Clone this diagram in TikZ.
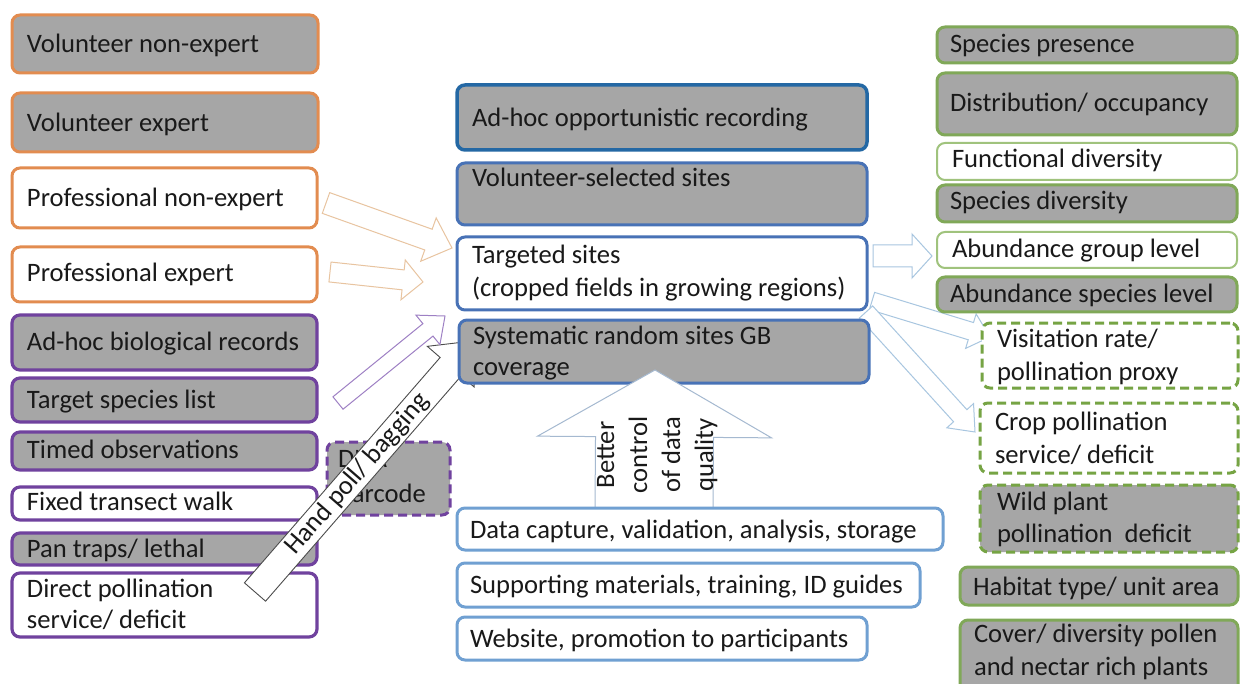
\documentclass[tikz,border=0pt]{standalone}
\usepackage{fontspec}
\setmainfont{Carlito}
\usetikzlibrary{calc}
\definecolor{orangeB}{RGB}{226,140,80}
\definecolor{purpleB}{RGB}{112,66,158}
\definecolor{grayF}{RGB}{166,166,166}
\definecolor{blueB}{RGB}{72,114,182}
\definecolor{topblueB}{RGB}{36,104,164}
\definecolor{lblueB}{RGB}{112,160,210}
\definecolor{greenB}{RGB}{128,168,88}
\definecolor{greenL}{RGB}{160,195,125}
\definecolor{greenD}{RGB}{118,164,68}
\definecolor{arrO}{RGB}{232,196,160}
\definecolor{arrP}{RGB}{158,128,196}
\definecolor{arrB}{RGB}{168,198,224}
\definecolor{arrBig}{RGB}{165,185,208}
\definecolor{txtC}{RGB}{25,25,25}
\newcommand{\tl}[1]{\begin{tabular}[t]{@{}l@{}}#1\end{tabular}}
\newdimen\BAxa \newdimen\BAya \newdimen\BAxb \newdimen\BAyb
% #1 start coord, #2 end coord, #3 shaft half width, #4 head half width, #5 head length, #6 style
\newcommand{\blockarrow}[6]{%
  \pgfextractx{\BAxa}{\pgfpointanchor{#1}{center}}%
  \pgfextracty{\BAya}{\pgfpointanchor{#1}{center}}%
  \pgfextractx{\BAxb}{\pgfpointanchor{#2}{center}}%
  \pgfextracty{\BAyb}{\pgfpointanchor{#2}{center}}%
  \pgfmathsetmacro{\BAang}{atan2(\BAyb-\BAya,\BAxb-\BAxa)}%
  \pgfmathsetmacro{\BAlen}{veclen(\BAxb-\BAxa,\BAyb-\BAya)}%
  \pgfmathsetmacro{\BAbase}{\BAlen-#5}%
  \draw[#6, shift={(#1)}, rotate=\BAang] (0pt,#3pt) -- (\BAbase pt,#3pt) -- (\BAbase pt,#4pt) -- (\BAlen pt,0pt) -- (\BAbase pt,-#4pt) -- (\BAbase pt,-#3pt) -- (0pt,-#3pt) -- cycle;%
}
% box: name, x1, y1, x2, y2, style
\newcommand{\bx}[6]{\node[#6, minimum width={#4-#2}, minimum height={#5-#3}] (#1) at ({(#2+#4)/2},{(#3+#5)/2}) {};}
\begin{document}
\begin{tikzpicture}[x=1pt,y=-1pt,
  font=\fontsize{26.6}{32}\selectfont,
  base/.style={rectangle, rounded corners=8pt, inner sep=0pt, outer sep=0pt},
  obox/.style={base, draw=orangeB, line width=3pt},
  pbox/.style={base, draw=purpleB, line width=3.2pt},
  cbox/.style={base, draw=blueB, line width=3pt},
  lbox/.style={base, draw=lblueB, line width=3pt},
  gbox/.style={base, draw=greenB, line width=3pt},
  gthin/.style={base, draw=greenL, line width=2pt},
  gdash/.style={base, draw=greenD, line width=3pt, dash pattern=on 9pt off 5pt},
  pdash/.style={base, draw=purpleB, line width=3pt, dash pattern=on 9pt off 5pt},
  gfill/.style={fill=grayF},
  wfill/.style={fill=white},
  txt/.style={anchor=base west, inner sep=0pt, outer sep=0pt, text=txtC},
  arrOs/.style={draw=arrO, fill=white, line width=1pt, line join=miter},
  arrPs/.style={draw=arrP, fill=white, line width=1pt, line join=miter},
  arrBs/.style={draw=arrB, fill=white, line width=1pt, line join=miter},
  arrHs/.style={draw=black!70, fill=white, line width=0.9pt, line join=miter},
  arrBigs/.style={draw=arrBig, fill=white, line width=1pt, line join=miter}
]
\clip (0,0) rectangle (1241,684);
\fill[white] (0,0) rectangle (1241,684);

% ---------------- left column ----------------
\bx{vne}{12}{15}{318}{73}{obox,gfill}
\node[txt] (vnet) at (27,53) {Volunteer non-expert};
\bx{ve}{12}{93}{318}{152}{obox,gfill}
\node[txt] (vet) at (27,132) {Volunteer expert};
\bx{pne}{12}{168}{317}{228}{obox,wfill}
\node[txt] (pnet) at (27,207) {Professional non-expert};
\bx{pe}{12}{247}{317}{302}{obox,wfill}
\node[txt] (pet) at (27,282) {Professional expert};
\bx{abr}{12}{315}{317}{370}{pbox,gfill}
\node[txt] (abrt) at (27,350) {Ad-hoc biological records};
\bx{tsl}{12}{378}{317}{422}{pbox,gfill}
\node[txt] (tslt) at (27,408) {Target species list};
\bx{tob}{12}{432}{317}{470}{pbox,gfill}
\node[txt] (tobt) at (27,458) {Timed observations};
\bx{ftw}{12}{487}{317}{520}{pbox,wfill}
\node[txt] (ftwt) at (27,510) {Fixed transect walk};
\bx{ptl}{12}{533}{317}{565}{pbox,gfill}
\node[txt] (ptlt) at (27,557) {Pan traps/ lethal};
\bx{dps}{12}{573}{317}{637}{pbox,wfill}
\node[txt] (dpst) at (27,597) {\fontsize{26.6}{31}\selectfont\tl{Direct pollination\\service/ deficit}};
\bx{dna}{327}{442}{450}{515}{pdash,gfill}
\node[txt] (dnat) at (338,467) {\fontsize{26.6}{35}\selectfont\tl{DNA\\barcode}};

% ---------------- arrows into centre ----------------
\coordinate (hps) at (255,592);
\coordinate (hpe) at (473,341);
\blockarrow{hps}{hpe}{14}{31}{34}{arrHs}
\node[inner sep=0pt, rotate=49, text=txtC] (hpt) at ($(hps)!0.47!(hpe)$) {Hand poll/ bagging};

\coordinate (oa1s) at (326,203);
\coordinate (oa1e) at (452,248);
\blockarrow{oa1s}{oa1e}{11}{23}{25}{arrOs}
\coordinate (oa2s) at (330,272);
\coordinate (oa2e) at (423,282);
\blockarrow{oa2s}{oa2e}{10}{20}{20}{arrOs}
\coordinate (pas) at (338,403);
\coordinate (pae) at (445,316);
\blockarrow{pas}{pae}{8}{19}{22}{arrPs}

% ---------------- arrows out of centre ----------------
\coordinate (ra1s) at (873,256);
\coordinate (ra1e) at (932,256);
\blockarrow{ra1s}{ra1e}{11}{22}{20}{arrBs}
\coordinate (ra2s) at (872,301);
\coordinate (ra2e) at (990,337);
\blockarrow{ra2s}{ra2e}{9}{18}{20}{arrBs}
\coordinate (ra3s) at (866,312);
\coordinate (ra3e) at (975,432);
\blockarrow{ra3s}{ra3e}{9}{18}{22}{arrBs}

% ---------------- centre column ----------------
\bx{aor}{457}{85}{867}{150}{cbox,draw=topblueB,line width=3.5pt,gfill}
\node[txt] (aort) at (472,127) {Ad-hoc opportunistic recording};
\bx{vss}{457}{163}{867}{225}{cbox,gfill}
\node[txt] (vsst) at (472,187) {Volunteer-selected sites};
\bx{tgs}{457}{237}{867}{310}{cbox,wfill}
\node[txt] (tgst) at (472,264) {\fontsize{26.6}{33}\selectfont\tl{Targeted sites\\(cropped fields in growing regions)}};
\bx{srs}{459}{320}{869}{383}{cbox,gfill}
\node[txt] (srst) at (473,344) {\fontsize{26.6}{31}\selectfont\tl{Systematic random sites GB\\coverage}};

% big up arrow
\coordinate (bus) at (654,508);
\coordinate (bue) at (655,370);
\blockarrow{bus}{bue}{59}{117}{67}{arrBigs}
\node[inner sep=0pt, rotate=90, text=txtC] (but) at (657,455) {\fontsize{26.6}{33}\selectfont\begin{tabular}{@{}c@{}}Better\\control\\of data\\quality\end{tabular}};

\bx{dcv}{457}{508}{943}{550}{lbox,wfill}
\node[txt] (dcvt) at (470,538) {Data capture, validation, analysis, storage};
\bx{smt}{457}{563}{920}{607}{lbox,wfill}
\node[txt] (smtt) at (470,593) {Supporting materials, training, ID guides};
\bx{wpp}{457}{617}{867}{660}{lbox,wfill}
\node[txt] (wppt) at (470,647) {Website, promotion to participants};

% ---------------- right column ----------------
\bx{spr}{937}{27}{1237}{63}{gbox,gfill}
\node[txt] (sprt) at (950,53) {Species presence};
\bx{doc}{937}{73}{1237}{135}{gbox,gfill}
\node[txt] (doct) at (950,112) {Distribution/ occupancy};
\bx{fdv}{937}{143}{1237}{180}{gthin,wfill}
\node[txt] (fdvt) at (952,168) {Functional diversity};
\bx{sdv}{937}{185}{1237}{222}{gbox,gfill}
\node[txt] (sdvt) at (950,210) {Species diversity};
\bx{agl}{937}{232}{1237}{268}{gthin,wfill}
\node[txt] (aglt) at (952,258) {Abundance group level};
\bx{asl}{937}{277}{1237}{312}{gbox,gfill}
\node[txt] (aslt) at (950,302) {Abundance species level};
\bx{vrp}{982}{323}{1238}{388}{gdash,wfill}
\node[txt] (vrpt) at (997,347) {\fontsize{26.6}{33}\selectfont\tl{Visitation rate/\\pollination proxy}};
\bx{cps}{980}{403}{1238}{473}{gdash,wfill}
\node[txt] (cpst) at (995,430) {\fontsize{26.6}{33}\selectfont\tl{Crop pollination\\service/ deficit}};
\bx{wpd}{980}{485}{1238}{552}{gdash,gfill}
\node[txt] (wpdt) at (997,510) {\fontsize{26.6}{32}\selectfont\tl{Wild plant\\pollination\ \ deficit}};
\bx{htu}{960}{567}{1238}{605}{gbox,gfill}
\node[txt] (htut) at (973,595) {Habitat type/ unit area};
\bx{cov}{960}{620}{1238}{700}{gbox,gfill}
\node[txt] (covt) at (974,642) {\fontsize{26.6}{33}\selectfont\tl{Cover/ diversity pollen\\and nectar rich plants}};
\end{tikzpicture}
\end{document}
